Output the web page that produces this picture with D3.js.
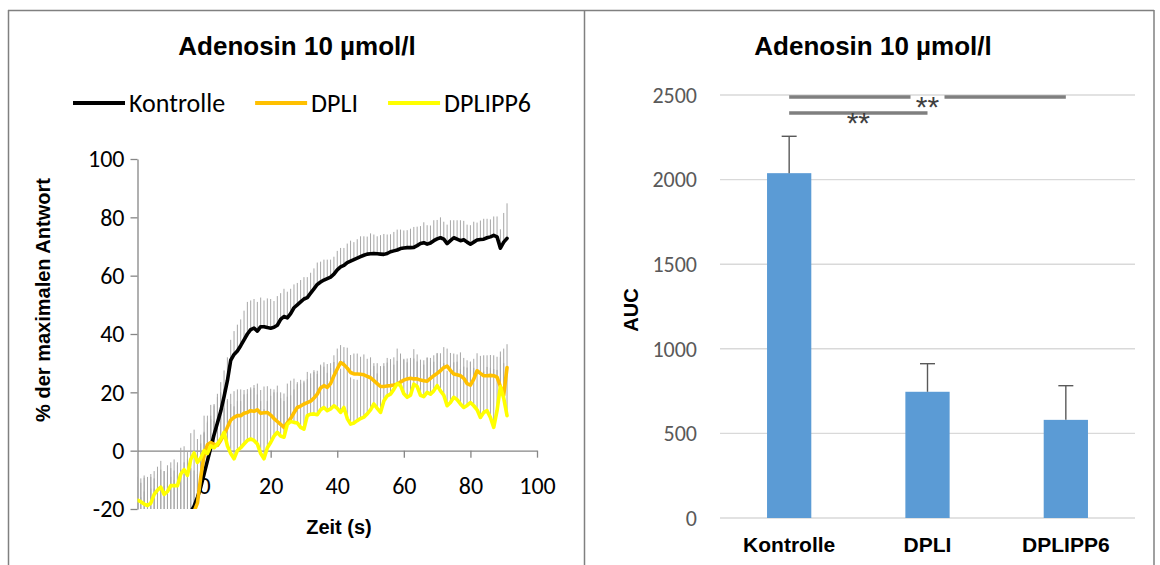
<!DOCTYPE html>
<html>
<head>
<meta charset="utf-8">
<script src="https://cdn.jsdelivr.net/npm/d3@7"></script>
<style>
  html, body { margin: 0; padding: 0; background: #fff; }
  svg { display: block; }
</style>
</head>
<body>
<svg id="chart" width="1160" height="565"></svg>
<script>
// ---- time course (left panel) ----
const zeit = [-20,-19,-18,-17,-16,-15,-14,-13,-12,-11,-10,-9,-8,-7,-6,-5,-4,-3,-2,-1,
  0,1,2,3,4,5,6,7,8,9,10,11,12,13,14,15,16,17,18,19,20,21,22,23,24,25,26,27,28,29,
  30,31,32,33,34,35,36,37,38,39,40,41,42,43,44,45,46,47,48,49,50,51,52,53,54,55,56,57,58,59,
  60,61,62,63,64,65,66,67,68,69,70,71,72,73,74,75,76,77,78,79,80,81,82,83,84,85,86,87,88,89,90,91];

const kontrolle = [-25,-25,-24.5,-24,-24,-23.5,-23,-22.5,-22,-21.5,-21,-20.8,-21,-21.5,-21,-20.8,
  -21,-19,-16,-12.5,-8,-3.5,1,5.5,9.5,13.5,18.5,24,31,33,34.2,36,38,40,
  41.5,42,41,42.5,42.5,42.2,42,42.3,43,45,
  46,45.5,47,49,50,51,52,52.5,54,55.5,
  57,57.8,58.5,59,59.5,60.5,62,63,63.5,64.5,
  65,65.5,66,66.5,67,67.4,67.5,67.6,67.5,67.4,
  67.3,67.6,68.2,68.5,68.8,69.3,69.5,69.6,69.6,69.7,
  70.3,71,71.3,70.8,71.2,72,72.6,73,72.5,71,
  72,73,72.5,72,72.3,71.5,70.8,71.5,72.2,72.4,
  72.5,73,73.3,73.8,73.3,69.4,71.5,72.8];
const kontrolleErr = [0,14,16,15,16,14,15,16,15,14,15,14,16,15,17,18,
  18,17,16,15,
  14,13,11,10,10,10,9,8,
  7,8,9,9,10,11,10,10,10,10,9,10,10,9,10,
  9,9.5,9,8.5,8,7.5,7.5,7.5,7,7,7,7.5,7,7,6.5,6,6,6.5,
  6.5,6,6.5,7,6,6.5,7,6.5,6,7,6.5,6,6.5,7,6.5,6,6.5,7,6.5,6,
  6,6.5,7,6.5,6,7,6.5,6,7,6.5,7,6,6.5,7,6,6.5,7,6.5,6,6.5,7,6,6.5,7,6.5,6,6.5,7,
  6.5,10,12];

const dpli = [-26,-26,-25,-25,-24,-25,-24,-24,-23,-23,-22,-22,-21.5,-21.5,-21,-21.5,-21,-20.8,
  -18,-9,-1.5,2,2.8,2.2,1.8,3.5,5.5,8,
  10.5,11.4,12,12,12.8,13.1,13.7,13.5,14,12.8,
  13,13.1,12.2,11,10,9,8,9.5,11,13,
  14.8,15.3,16,16.5,17,18,19.4,21.5,22.3,21.7,
  23,25.7,28,30.2,29.5,28.3,26.8,26.3,26.3,26.2,
  26,25.5,25,24,23,22,22,22.2,22.3,22.5,
  22.8,23.5,24.2,24.6,24.8,24.6,24.6,24.2,24,23.8,
  24.8,25.7,26.5,27.4,28.5,29,27.5,26.3,26,25.7,
  24.8,23,22.5,24.5,27.4,26.5,25.7,25.7,25.8,25.7,
  25.2,22,19,28.5];
const dpliErr = [8,10,11,12,11,12,13,12,11,12,13,12,13,14,13,14,15,14,
  10,9,8,8,8,8,9,9,9,9,
  9,9,9,9,8,8,8,9,9,8,9,9,9,10,10,9,9,9,
  8,8,8,9,8,8,8,9,8,8,8,8,7,7,7,
  6,6,7,6,7,7,6,7,6,7,6,7,7,8,8,8,7,8,7,7,
  7,7,7,6,7,7,8,7,7,7,6,7,6,6,7,7,8,7,8,8,7,6,6,7,7,7,7,7,
  12,16,8];

const dplipp6 = [-17,-17.5,-18.3,-18.8,-18,-15,-13.5,-12.5,-15,-14,-12,-12,-12,-8,-6.5,-8.5,-3,-0.8,-4,-2.5,
  0,-1,1.7,1,2.3,4,6.3,1.7,-1,-2.8,
  0,1,2.3,3.5,4,3.5,2.3,-1,-2.8,1,
  2.8,5,6.3,5,4.6,9,10,9.7,9.5,8,
  7.4,12,12.5,12.6,12.3,14,14.8,13.7,14.3,15.4,
  14.5,13.1,14.8,11,9.1,9.5,10.3,11,11.5,12.6,
  14,16,14.5,13.1,17,18.8,19.4,21,23,22.3,
  19.5,18.3,19,22.8,22,19,18.5,20,19.4,20.5,
  22.3,20.5,19,15.4,16.5,18.3,17.5,16,14.8,15.5,
  16.5,15.4,14,11.4,13.1,13.7,11.4,8,13.7,22,
  18,12];
const dplipp6Err = [8,8,9,8,9,8,8,9,8,9,8,9,8,9,8,8,9,8,8,8,
  12,13,14,15,16,16,15,16,17,18,17,16,17,16,17,18,17,18,17,16,16,15,16,15,15,14,
  14,15,14,15,16,15,14,15,14,15,14,13,14,15,14,15,16,17,16,15,14,15,14,13,14,13,12,13,12,13,12,11,12,11,12,
  12,11,12,11,10,11,12,11,10,11,10,11,12,13,12,13,12,14,13,14,13,14,15,14,15,17,20,14,10,12,16];

const seriesNames = ["Kontrolle", "DPLI", "DPLIPP6"];
const seriesColors = ["#000000", "#FFC000", "#FFFF00"];
const seriesValues = [kontrolle, dpli, dplipp6];
const seriesErrors = [kontrolleErr, dpliErr, dplipp6Err];

const yTicksLeft = [-20, 0, 20, 40, 60, 80, 100];
const xTicksLeft = [0, 20, 40, 60, 80, 100];

// ---- AUC (right panel) ----
const aucCategories = ["Kontrolle", "DPLI", "DPLIPP6"];
const aucValues = [2038, 746, 580];
const aucErrors = [218, 166, 202];
const aucTicks = [0, 500, 1000, 1500, 2000, 2500];
const significance = [
  { from: "Kontrolle", to: "DPLIPP6", label: "**", level: 0, gap: true },
  { from: "Kontrolle", to: "DPLI",    label: "**", level: 1, gap: false }
];

const chartTitle = "Adenosin 10 µmol/l";

// ---- drawing ----
const REG = "Carlito, Lato, sans-serif";
const BOLD = "'Liberation Sans', Arial, sans-serif";
const plainNumber = d => String(d);   // hyphen-minus, as in the axis labels
const svg = d3.select("#chart");

// panel frames
const frame = svg.append("g").attr("stroke", "#808080").attr("stroke-width", 1.5).attr("fill", "none");
frame.append("line").attr("x1", 8).attr("x2", 1154).attr("y1", 10.5).attr("y2", 10.5);
[8.5, 584.5, 1154].forEach(xv =>
  frame.append("line").attr("x1", xv).attr("x2", xv).attr("y1", 10).attr("y2", 565));

// ===== left panel: time course =====
const L = { left: 137.5, right: 537, top: 159, bottom: 509 };
const x = d3.scaleLinear().domain([-20, 100]).range([L.left, L.right]);
const y = d3.scaleLinear().domain([-20, 100]).range([L.bottom, L.top]);

svg.append("text")
  .attr("x", 297).attr("y", 55).attr("text-anchor", "middle")
  .attr("font-family", BOLD).attr("font-weight", "bold").attr("font-size", 26)
  .text(chartTitle);

const yAxis = svg.append("g")
  .attr("transform", `translate(${L.left},0)`)
  .call(d3.axisLeft(y).tickValues(yTicksLeft).tickFormat(plainNumber)
    .tickSize(7).tickPadding(6).tickSizeOuter(0));
yAxis.select(".domain").attr("stroke", "#868686").attr("stroke-width", 1.3);
yAxis.selectAll(".tick line").attr("stroke", "#868686").attr("stroke-width", 1.3);
yAxis.selectAll("text").attr("font-family", REG).attr("font-size", 24).attr("fill", "#000");

const xAxis = svg.append("g")
  .attr("transform", `translate(0,${y(0)})`)
  .call(d3.axisBottom(x).tickValues(xTicksLeft).tickFormat(plainNumber)
    .tickSize(7).tickPadding(19).tickSizeOuter(0));
xAxis.select(".domain").attr("stroke", "#868686").attr("stroke-width", 1.3);
xAxis.selectAll(".tick line").attr("stroke", "#868686").attr("stroke-width", 1.3);
xAxis.selectAll("text").attr("font-family", REG).attr("font-size", 24).attr("fill", "#000");

svg.append("defs").append("clipPath").attr("id", "plotClip")
  .append("rect")
  .attr("x", L.left).attr("y", L.top - 10)
  .attr("width", L.right - L.left).attr("height", L.bottom - L.top + 10);

const plot = svg.append("g").attr("clip-path", "url(#plotClip)");

// plus error bars
seriesValues.forEach((vals, s) => {
  const errs = seriesErrors[s];
  plot.append("g")
    .attr("stroke", "#A6A6A6").attr("stroke-width", 1)
    .selectAll("line")
    .data(zeit.map((t, i) => ({ t, v: vals[i], e: errs[i] })).filter(d => d.e > 0))
    .join("line")
    .attr("x1", d => x(d.t)).attr("x2", d => x(d.t))
    .attr("y1", d => y(d.v)).attr("y2", d => y(d.v + d.e));
});

// mean curves
const line = d3.line().x(d => x(d.t)).y(d => y(d.v));
seriesValues.forEach((vals, s) => {
  plot.append("path")
    .datum(zeit.map((t, i) => ({ t, v: vals[i] })))
    .attr("fill", "none")
    .attr("stroke", seriesColors[s])
    .attr("stroke-width", 3.6)
    .attr("stroke-linejoin", "round")
    .attr("stroke-linecap", "round")
    .attr("d", line);
});

// legend
const legend = svg.append("g");
const legendY = 103, swatch = 52, swatchGap = 4, itemGap = 30;
let cursor = 0;
seriesNames.forEach((name, i) => {
  const g = legend.append("g");
  g.append("line").attr("x1", 0).attr("x2", swatch).attr("y1", 0).attr("y2", 0)
    .attr("stroke", seriesColors[i]).attr("stroke-width", 4);
  const t = g.append("text").attr("x", swatch + swatchGap).attr("y", 9)
    .attr("font-family", REG).attr("font-size", 26).text(name);
  const w = swatch + swatchGap + t.node().getComputedTextLength();
  g.attr("transform", `translate(${cursor},${legendY})`);
  cursor += w + itemGap;
});
const legendWidth = cursor - itemGap;
legend.attr("transform", `translate(${302 - legendWidth / 2},0)`);

// axis titles
svg.append("text")
  .attr("transform", "translate(50,300) rotate(-90)")
  .attr("text-anchor", "middle")
  .attr("font-family", BOLD).attr("font-weight", "bold").attr("font-size", 20)
  .text("% der maximalen Antwort");
svg.append("text")
  .attr("x", 339).attr("y", 534).attr("text-anchor", "middle")
  .attr("font-family", BOLD).attr("font-weight", "bold").attr("font-size", 20)
  .text("Zeit (s)");

// ===== right panel: AUC bars =====
const R = { left: 720, right: 1135, top: 95, bottom: 518 };
const xb = d3.scaleBand().domain(aucCategories).range([R.left, R.right]);
const yb = d3.scaleLinear().domain([0, 2500]).range([R.bottom, R.top]);
const cx = c => xb(c) + xb.bandwidth() / 2;

svg.append("text")
  .attr("x", 873).attr("y", 55).attr("text-anchor", "middle")
  .attr("font-family", BOLD).attr("font-weight", "bold").attr("font-size", 26)
  .text(chartTitle);

const grid = svg.append("g");
grid.selectAll("line").data(aucTicks).join("line")
  .attr("x1", R.left).attr("x2", R.right)
  .attr("y1", d => yb(d)).attr("y2", d => yb(d))
  .attr("stroke", "#D9D9D9").attr("stroke-width", 1.4);
grid.selectAll("text").data(aucTicks).join("text")
  .attr("x", 697).attr("y", d => yb(d)).attr("dy", "0.35em")
  .attr("text-anchor", "end")
  .attr("font-family", REG).attr("font-size", 22).attr("fill", "#595959")
  .text(d => d);

const barW = xb.bandwidth() * 0.32;
svg.append("g").selectAll("rect").data(aucCategories).join("rect")
  .attr("x", c => cx(c) - barW / 2)
  .attr("y", (c, i) => yb(aucValues[i]))
  .attr("width", barW)
  .attr("height", (c, i) => yb(0) - yb(aucValues[i]))
  .attr("fill", "#5B9BD5");

const eb = svg.append("g").attr("stroke", "#595959").attr("stroke-width", 1.4);
aucCategories.forEach((c, i) => {
  const top = yb(aucValues[i] + aucErrors[i]);
  eb.append("line").attr("x1", cx(c)).attr("x2", cx(c))
    .attr("y1", yb(aucValues[i])).attr("y2", top);
  eb.append("line").attr("x1", cx(c) - 7.5).attr("x2", cx(c) + 7.5)
    .attr("y1", top).attr("y2", top);
});

svg.append("g").selectAll("text").data(aucCategories).join("text")
  .attr("x", c => cx(c)).attr("y", 552).attr("text-anchor", "middle")
  .attr("font-family", BOLD).attr("font-weight", "bold").attr("font-size", 21)
  .text(c => c);

svg.append("text")
  .attr("transform", "translate(638,310) rotate(-90)")
  .attr("text-anchor", "middle")
  .attr("font-family", BOLD).attr("font-weight", "bold").attr("font-size", 20)
  .text("AUC");

// significance brackets
const sig = svg.append("g");
significance.forEach(s => {
  const ly = 97 + s.level * 16;
  const x1 = cx(s.from), x2 = cx(s.to), xm = (x1 + x2) / 2;
  const half = s.gap ? 17 : 0;
  const g = sig.append("g").attr("stroke", "#7F7F7F").attr("stroke-width", 3.5);
  if (s.gap) {
    g.append("line").attr("x1", x1).attr("x2", xm - half).attr("y1", ly).attr("y2", ly);
    g.append("line").attr("x1", xm + half).attr("x2", x2).attr("y1", ly).attr("y2", ly);
  } else {
    g.append("line").attr("x1", x1).attr("x2", x2).attr("y1", ly).attr("y2", ly);
  }
  sig.append("text")
    .attr("x", xm).attr("y", ly + 20).attr("text-anchor", "middle")
    .attr("font-family", BOLD).attr("font-size", 30).attr("fill", "#404040")
    .text(s.label);
});
</script>
</body>
</html>
